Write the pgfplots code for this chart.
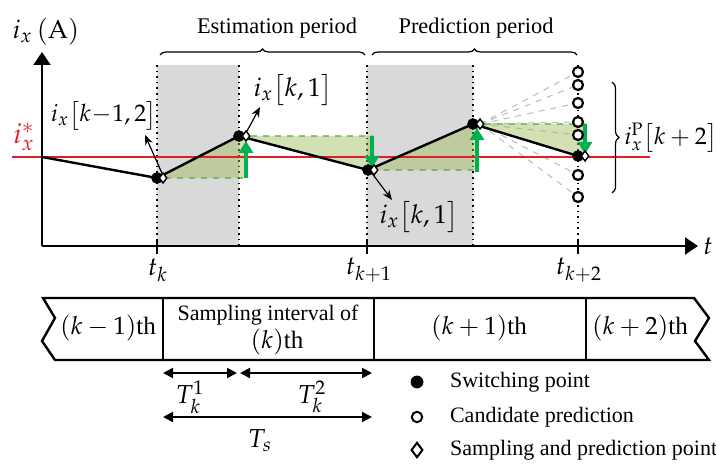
\documentclass[border=0pt]{standalone}
\usepackage{mathpazo}
\usepackage[no-math]{fontspec}
\setmainfont{Liberation Serif}
\usepackage{pgfplots}
\pgfplotsset{compat=1.18}
\usetikzlibrary{arrows.meta,decorations.pathreplacing}
\definecolor{gfill}{RGB}{217,217,217}
\definecolor{olivef}{RGB}{155,187,89}
\definecolor{gdash}{RGB}{95,160,75}
\definecolor{garrow}{RGB}{0,176,80}
\definecolor{redl}{RGB}{225,30,40}
\newcommand{\fs}[1]{\fontsize{#1}{#1}\selectfont}
\begin{document}
\begin{tikzpicture}
\begin{axis}[scale only axis, width=358pt, height=232pt,
  xmin=0, xmax=716, ymin=0, ymax=464, y dir=reverse,
  hide axis, clip=false]
% gray periods
\addplot[draw=none, fill=gfill] coordinates {(157,65)(239,65)(239,246)(157,246)} -- cycle;
\addplot[draw=none, fill=gfill] coordinates {(367,65)(473,65)(473,246)(367,246)} -- cycle;
% dotted verticals
\addplot[black, dotted, line width=0.8pt] coordinates {(157,65)(157,246)};
\addplot[black, dotted, line width=0.8pt] coordinates {(239,65)(239,246)};
\addplot[black, dotted, line width=0.8pt] coordinates {(367,65)(367,246)};
\addplot[black, dotted, line width=0.8pt] coordinates {(473,65)(473,246)};
\addplot[black, dotted, line width=0.8pt] coordinates {(578,65)(578,246)};
% fan of candidate trajectories
\addplot[gray!55, dashed, line width=0.5pt] coordinates {(480,124)(578,72)};
\addplot[gray!55, dashed, line width=0.5pt] coordinates {(480,124)(578,85)};
\addplot[gray!55, dashed, line width=0.5pt] coordinates {(480,124)(578,103)};
\addplot[gray!55, dashed, line width=0.5pt] coordinates {(480,124)(578,122)};
\addplot[gray!55, dashed, line width=0.5pt] coordinates {(480,124)(578,135)};
\addplot[gray!55, dashed, line width=0.5pt] coordinates {(480,124)(578,175)};
\addplot[gray!55, dashed, line width=0.5pt] coordinates {(480,124)(578,197)};
% candidate circles
\addplot[only marks, mark=*, mark size=2.5pt, mark options={draw=black, fill=white, line width=1.1pt}]
  coordinates {(578,72)(578,85)(578,103)(578,122)(578,135)(578,175)(578,197)};
% green areas
\addplot[fill=olivef, fill opacity=0.45, draw=gdash, dashed, line width=0.6pt]
  coordinates {(157,178)(239,136)(246,136)(246,178)} -- cycle;
\addplot[fill=olivef, fill opacity=0.45, draw=gdash, dashed, line width=0.6pt]
  coordinates {(239,136)(372,136)(372,170)(368,170)} -- cycle;
\addplot[fill=olivef, fill opacity=0.45, draw=gdash, dashed, line width=0.6pt]
  coordinates {(368,170)(473,124)(477,124)(477,170)} -- cycle;
\addplot[fill=olivef, fill opacity=0.45, draw=gdash, dashed, line width=0.6pt]
  coordinates {(473,124)(585,124)(585,156)(578,156)} -- cycle;
% reference line
\addplot[redl, line width=1pt] coordinates {(12,157)(650,157)};
% current waveform
\addplot[black, line width=1.2pt] coordinates {(42,157)(157,178)(239,136)(368,170)(473,124)(578,156)};
% green arrows
\addplot[garrow, line width=2pt, -{Triangle[width=7pt,length=6pt]}] coordinates {(246,178)(246,141)};
\addplot[garrow, line width=2pt, -{Triangle[width=7pt,length=6pt]}] coordinates {(372,136)(372,168)};
\addplot[garrow, line width=2pt, -{Triangle[width=7pt,length=6pt]}] coordinates {(477,172)(477,128)};
\addplot[garrow, line width=2pt, -{Triangle[width=7pt,length=6pt]}] coordinates {(585,124)(585,154)};
% switching points and sampling points
\addplot[only marks, mark=*, mark size=2.7pt, mark options={black}]
  coordinates {(157,178)(239,136)(368,170)(473,124)(578,156)};
\addplot[only marks, mark=diamond*, mark size=2.5pt, mark options={draw=black, fill=white, line width=0.7pt}]
  coordinates {(163,178)(246,136)(374,170)(480,124)(585,156)};
% annotation arrows
\addplot[black, line width=0.6pt, -{Stealth[width=4pt,length=5pt]}] coordinates {(165,180)(145,135)};
\addplot[black, line width=0.6pt, -{Stealth[width=4pt,length=5pt]}] coordinates {(246,133)(260,107)};
\addplot[black, line width=0.6pt, -{Stealth[width=4pt,length=5pt]}] coordinates {(371,172)(392,200)};
% axes
\addplot[black, line width=1pt, -{Triangle[width=8.5pt,length=6.5pt]}] coordinates {(42,246.5)(42,52)};
\addplot[black, line width=1pt, -{Triangle[width=8.5pt,length=6.5pt]}] coordinates {(41.5,246)(698,246)};
\addplot[black, line width=1pt] coordinates {(157,240)(157,254)};
\addplot[black, line width=1pt] coordinates {(367,240)(367,254)};
\addplot[black, line width=1pt] coordinates {(578,240)(578,254)};
% braces
\draw[decorate, decoration={brace, amplitude=3pt}, line width=0.6pt] (axis cs:160,55) -- (axis cs:365,55);
\draw[decorate, decoration={brace, amplitude=3pt}, line width=0.6pt] (axis cs:372,55) -- (axis cs:577,55);
\draw[decorate, decoration={brace, amplitude=3.5pt}, line width=0.6pt] (axis cs:612,82) -- (axis cs:612,193);
% bottom band
\addplot[black, line width=1.2pt] coordinates {(43,298)(694,298)(709,318)(695,341)(709,360)(55,360)(42,341)(55,318)} -- cycle;
\addplot[black, line width=1pt] coordinates {(163,298)(163,360)};
\addplot[black, line width=1pt] coordinates {(374,298)(374,360)};
\addplot[black, line width=1pt] coordinates {(586,298)(586,360)};
% interval arrows
\addplot[black, line width=1pt, {Triangle[width=5pt,length=5pt]}-{Triangle[width=5pt,length=5pt]}] coordinates {(163,373)(237,373)};
\addplot[black, line width=1pt, {Triangle[width=5pt,length=5pt]}-{Triangle[width=5pt,length=5pt]}] coordinates {(240,373)(372,373)};
\addplot[black, line width=1pt, {Triangle[width=5pt,length=5pt]}-{Triangle[width=5pt,length=5pt]}] coordinates {(163,417)(372,417)};
% legend markers
\addplot[only marks, mark=*, mark size=3pt, mark options={black}] coordinates {(417,382)};
\addplot[only marks, mark=*, mark size=2.6pt, mark options={draw=black, fill=white, line width=1pt}] coordinates {(417,417)};
\addplot[only marks, mark=diamond*, mark size=3.6pt, mark options={draw=black, fill=white, line width=1pt}] coordinates {(417,450)};
% texts
\node[font=\fs{13}] at (axis cs:46,32) {$i_x\left(\mathrm{A}\right)$};
\node[font=\fs{14}, text=redl] at (axis cs:24,137) {$i_x^{*}$};
\node[font=\fs{12}] at (axis cs:104,116) {$i_x\bigl[k\!-\!1,2\bigr]$};
\node[font=\fs{13}] at (axis cs:293,90) {$i_x\bigl[k,1\bigr]$};
\node[font=\fs{13}] at (axis cs:419,217) {$i_x\bigl[k,1\bigr]$};
\node[font=\fs{12}, anchor=west, inner sep=0pt] at (axis cs:624,138) {$i_x^{\mathrm{P}}\bigl[k+2\bigr]$};
\node[font=\fs{13}] at (axis cs:158,270) {$t_k$};
\node[font=\fs{13}] at (axis cs:369,270) {$t_{k+1}$};
\node[font=\fs{13}] at (axis cs:579,270) {$t_{k+2}$};
\node[font=\fs{13}, anchor=west, inner sep=0pt] at (axis cs:703,246) {$t$};
\node[font=\fs{11.2}] at (axis cs:277,28) {Estimation period};
\node[font=\fs{11.2}] at (axis cs:476,28) {Prediction period};
\node[font=\fs{12.5}] at (axis cs:108,328) {$(k-1)$th};
\node[font=\fs{11}] at (axis cs:268,315) {Sampling interval of};
\node[font=\fs{12.5}] at (axis cs:277,342) {$(k)$th};
\node[font=\fs{12.5}] at (axis cs:479,328) {$(k+1)$th};
\node[font=\fs{12.5}] at (axis cs:640,328) {$(k+2)$th};
\node[font=\fs{13}] at (axis cs:190,397) {$T_k^1$};
\node[font=\fs{13}] at (axis cs:312,397) {$T_k^2$};
\node[font=\fs{13}] at (axis cs:260,441) {$T_s$};
\node[font=\fs{11}, anchor=west] at (axis cs:443,382) {Switching point};
\node[font=\fs{11}, anchor=west] at (axis cs:443,417) {Candidate prediction};
\node[font=\fs{11}, anchor=west] at (axis cs:443,450) {Sampling and prediction point};
\end{axis}
\pgfresetboundingbox
\path (0,0) rectangle (358pt,232pt);
\end{tikzpicture}
\end{document}
